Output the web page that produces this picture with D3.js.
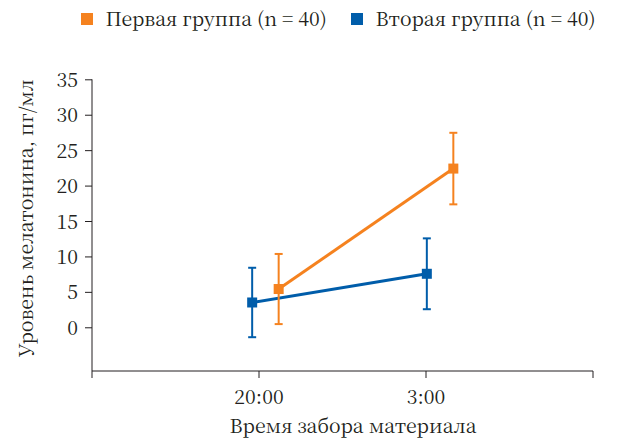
<!DOCTYPE html>
<html><head><meta charset="utf-8">
<script src="https://cdn.jsdelivr.net/npm/d3@7/dist/d3.min.js"></script>
<style>body{margin:0;background:#fff}svg{display:block}</style>
</head><body><svg id="c" width="624" height="438"></svg>
<script>
const categories = ["20:00", "3:00"];
const seriesNames = ["Первая группа (n = 40)", "Вторая группа (n = 40)"];
const firstMeans = [5.4, 22.4];
const firstErrors = [4.95, 5.05];
const secondMeans = [3.5, 7.55];
const secondErrors = [4.9, 5.0];
const yTicks = [0, 5, 10, 15, 20, 25, 30, 35];

(function () {
const FONT = '"Noto Serif CJK SC", "Liberation Serif", serif';
const FS = 19.5;
const INK = "#231f20";
const colors = ["#F5821F", "#005DAA"];
const offsets = [26.5, 0];
const series = [
  {name: seriesNames[0], means: firstMeans, errs: firstErrors, color: colors[0], off: offsets[0]},
  {name: seriesNames[1], means: secondMeans, errs: secondErrors, color: colors[1], off: offsets[1]}
];

const svg = d3.select("#c");
const L = 92, R = 593, T = 79.3, B = 371;
const y = d3.scaleLinear().domain([-6.17, 35]).range([B, T]);
const x = d3.scalePoint().domain(categories).range([L, R]).padding(1);
const xm = d3.scalePoint().domain(categories).range([77.5, 601.5]).padding(1);

const txt = sel => sel.attr("font-family", FONT).attr("font-size", FS).attr("fill", INK);

// y axis
const yAxis = svg.append("g").attr("transform", `translate(${L},0)`)
  .call(d3.axisLeft(y).tickValues(yTicks).tickSize(7).tickSizeOuter(0));
yAxis.attr("font-family", null);
yAxis.select(".domain").attr("d", `M0,${y(35)}V${B}`).attr("stroke", INK);
yAxis.selectAll(".tick line").attr("stroke", INK);
yAxis.selectAll(".tick text").call(txt).attr("x", -14).attr("dy", "0.36em");

// x axis
const xTickPos = [L, x(categories[0]), x(categories[1]), R];
svg.append("line").attr("x1", L).attr("x2", R).attr("y1", B).attr("y2", B).attr("stroke", INK);
xTickPos.forEach(p => svg.append("line").attr("x1", p).attr("x2", p).attr("y1", B).attr("y2", B + 7).attr("stroke", INK));
svg.append("g").selectAll("text").data(categories).join("text")
  .attr("x", d => x(d)).attr("y", 404).attr("text-anchor", "middle").call(txt).text(d => d);

// axis titles
svg.append("text").attr("x", 353).attr("y", 433).attr("text-anchor", "middle").call(txt).text("Время забора материала");
svg.append("text").attr("transform", `translate(33,${(y(35) + B) / 2 - 7}) rotate(-90)`).attr("text-anchor", "middle")
  .call(txt).text("Уровень мелатонина, пг/мл");

[series[1], series[0]].forEach(s => {
  const g = svg.append("g");
  const pts = categories.map((c, i) => ({x: xm(c) + s.off, m: s.means[i], e: s.errs[i]}));
  g.append("path").attr("d", d3.line().x(d => d.x).y(d => y(d.m))(pts))
    .attr("fill", "none").attr("stroke", s.color).attr("stroke-width", 3);
  pts.forEach(d => {
    g.append("line").attr("x1", d.x).attr("x2", d.x).attr("y1", y(d.m + d.e)).attr("y2", y(d.m - d.e))
      .attr("stroke", s.color).attr("stroke-width", 2);
    [d.m + d.e, d.m - d.e].forEach(v => g.append("line").attr("x1", d.x - 4).attr("x2", d.x + 4)
      .attr("y1", y(v)).attr("y2", y(v)).attr("stroke", s.color).attr("stroke-width", 2));
    g.append("rect").attr("x", d.x - 5).attr("y", y(d.m) - 5).attr("width", 10).attr("height", 10).attr("fill", s.color);
  });
});

// legend
const legX = [81, 351];
series.forEach((s, i) => {
  svg.append("rect").attr("x", legX[i]).attr("y", 13).attr("width", 12).attr("height", 12).attr("fill", s.color);
  svg.append("text").attr("x", legX[i] + 24.5).attr("y", 26).call(txt).text(s.name);
});
})();
</script></body></html>
